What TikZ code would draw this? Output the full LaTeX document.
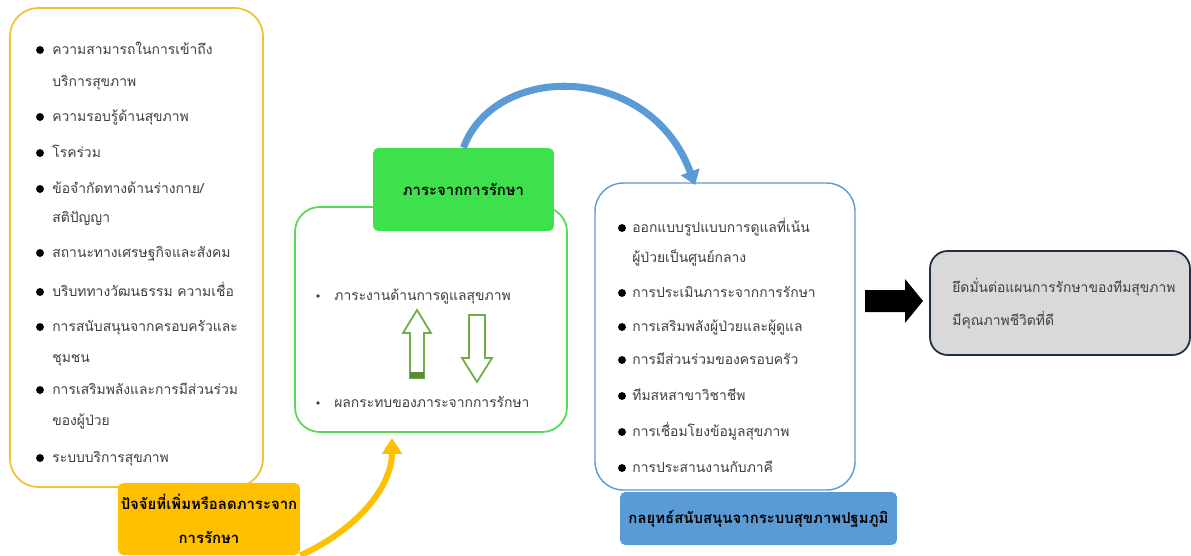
\documentclass[tikz,border=0pt]{standalone}
\usepackage{fontspec}
\setmainfont[Script=Thai]{Loma}
\usetikzlibrary{arrows.meta}
\definecolor{factoryellow}{HTML}{F2C230}
\definecolor{tagyellow}{HTML}{FFC000}
\definecolor{loadgreen}{HTML}{5AD85A}
\definecolor{taggreen}{HTML}{3EE04C}
\definecolor{hollowgreen}{HTML}{70AD47}
\definecolor{strategyblue}{HTML}{5B9BD5}
\definecolor{outcomegray}{HTML}{D9D9D9}
\definecolor{outcomeline}{HTML}{1F2F3F}
\definecolor{itemgray}{HTML}{3F3F3F}
\begin{document}
\begin{tikzpicture}[x=0.02cm,y=-0.02cm]
\tikzstyle{every node}+=[inner sep=0pt]
\tikzstyle{panel}=[draw,fill=white,line width=1pt,rounded corners=16pt]
\tikzstyle{tag}=[rounded corners=3pt,align=center,font=\fontsize{8.5}{19}\selectfont\bfseries]
\tikzstyle{item}=[anchor=base west,text=itemgray,font=\fontsize{7.9}{10}\selectfont]
\tikzstyle{dot}=[circle,fill=black,minimum size=4.5pt]
\tikzstyle{smalldot}=[circle,fill=itemgray,minimum size=2.2pt]
\useasboundingbox (0,0) rectangle (1191,555);
\node [panel,draw=factoryellow,minimum width=5.06cm,minimum height=9.58cm] (factors) at (136.5,247.5) {};
\node [panel,draw=loadgreen,rounded corners=14pt,minimum width=5.44cm,minimum height=4.5cm] (load) at (431,319.5) {};
\node [panel,draw=strategyblue,line width=0.8pt,minimum width=5.2cm,minimum height=6.14cm] (strategy) at (725,336.5) {};
\node [panel,draw=outcomeline,fill=outcomegray,rounded corners=10pt,minimum width=5.2cm,minimum height=2.08cm] (outcome) at (1060,303) {};
\node [tag,fill=tagyellow,minimum width=3.64cm,minimum height=1.44cm] (factortag) at (209,519) {ปัจจัยที่เพิ่มหรือลดภาระจาก\\การรักษา};
\node [tag,fill=taggreen,minimum width=3.62cm,minimum height=1.66cm] (loadtag) at (463.5,189.5) {ภาระจากการรักษา};
\node [tag,fill=strategyblue,minimum width=5.54cm,minimum height=1.06cm] (strategytag) at (758.5,518.5) {กลยุทธ์สนับสนุนจากระบบสุขภาพปฐมภูมิ};
\node [dot] (fdot1) at (40,50) {};
\node [item] (f1) at (52,54) {ความสามารถในการเข้าถึง};
\node [item] (f1b) at (52,86) {บริการสุขภาพ};
\node [dot] (fdot2) at (40,117) {};
\node [item] (f2) at (52,121) {ความรอบรู้ด้านสุขภาพ};
\node [dot] (fdot3) at (40,153) {};
\node [item] (f3) at (52,157) {โรคร่วม};
\node [dot] (fdot4) at (40,189) {};
\node [item] (f4) at (52,193) {ข้อจำกัดทางด้านร่างกาย/};
\node [item] (f4b) at (52,222) {สติปัญญา};
\node [dot] (fdot5) at (40,253) {};
\node [item] (f5) at (52,257) {สถานะทางเศรษฐกิจและสังคม};
\node [dot] (fdot6) at (40,292) {};
\node [item] (f6) at (52,296) {บริบททางวัฒนธรรม ความเชื่อ};
\node [dot] (fdot7) at (40,327) {};
\node [item] (f7) at (52,331) {การสนับสนุนจากครอบครัวและ};
\node [item] (f7b) at (52,362) {ชุมชน};
\node [dot] (fdot8) at (40,390) {};
\node [item] (f8) at (52,394) {การเสริมพลังและการมีส่วนร่วม};
\node [item] (f8b) at (52,425) {ของผู้ป่วย};
\node [dot] (fdot9) at (40,458) {};
\node [item] (f9) at (52,462) {ระบบบริการสุขภาพ};
\node [smalldot] (ldot1) at (318,296) {};
\node [item] (l1) at (334,300) {ภาระงานด้านการดูแลสุขภาพ};
\node [smalldot] (ldot2) at (318,403) {};
\node [item] (l2) at (334,407) {ผลกระทบของภาระจากการรักษา};
\node [dot] (sdot1) at (622,228) {};
\node [item] (s1) at (632,232) {ออกแบบรูปแบบการดูแลที่เน้น};
\node [item] (s1b) at (632,262) {ผู้ป่วยเป็นศูนย์กลาง};
\node [dot] (sdot2) at (622,293) {};
\node [item] (s2) at (632,297) {การประเมินภาระจากการรักษา};
\node [dot] (sdot3) at (622,327) {};
\node [item] (s3) at (632,331) {การเสริมพลังผู้ป่วยและผู้ดูแล};
\node [dot] (sdot4) at (622,360) {};
\node [item] (s4) at (632,364) {การมีส่วนร่วมของครอบครัว};
\node [dot] (sdot5) at (622,396) {};
\node [item] (s5) at (632,400) {ทีมสหสาขาวิชาชีพ};
\node [dot] (sdot6) at (622,432) {};
\node [item] (s6) at (632,436) {การเชื่อมโยงข้อมูลสุขภาพ};
\node [dot] (sdot7) at (622,468) {};
\node [item] (s7) at (632,472) {การประสานงานกับภาคี};
\node [item] (o1) at (952,292) {ยึดมั่นต่อแผนการรักษาของทีมสุขภาพ};
\node [item] (o1b) at (952,325) {มีคุณภาพชีวิตที่ดี};
\coordinate (loadin) at (392,438);
\coordinate (strategyin) at (695,185);
\draw [tagyellow,line width=3.4pt,-{Triangle[length=9pt,width=11pt]}] (factortag.south east) .. controls (360,528) and (392,485) .. (loadin);
\draw [strategyblue,line width=4pt,-{Triangle[length=8pt,width=11pt]}] (loadtag.north) .. controls (495,62) and (650,62) .. (strategyin);
\draw [hollowgreen,line width=1pt] (417,310) -- (431,333) -- (424,333) -- (424,378) -- (410,378) -- (410,333) -- (403,333) -- cycle;
\fill [hollowgreen!80!black] (410,372) rectangle (424,378);
\draw [hollowgreen,line width=1pt] (469,315) -- (485,315) -- (485,358) -- (492,358) -- (477,382) -- (462,358) -- (469,358) -- cycle;
\fill [black] (865,290) -- (905,290) -- (905,279) -- (923,301) -- (905,323) -- (905,312) -- (865,312) -- cycle;
\end{tikzpicture}
\end{document}
